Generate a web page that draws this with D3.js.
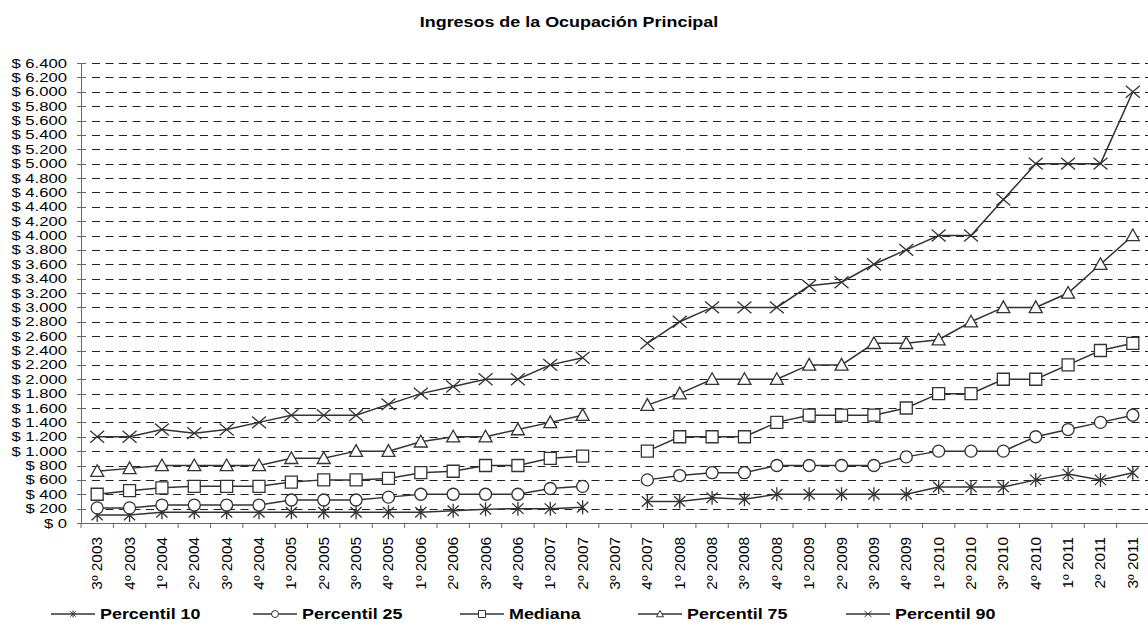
<!DOCTYPE html>
<html>
<head>
<meta charset="utf-8">
<style>
  body { margin: 0; background: #fff; }
  svg text { font-family: "Liberation Sans", Arial, sans-serif; fill: #000; }
</style>
</head>
<body>
<svg width="1148" height="627"></svg>
<script src="https://d3js.org/d3.v7.min.js"></script>
<script>
const categories = ["3º 2003","4º 2003","1º 2004","2º 2004","3º 2004","4º 2004","1º 2005","2º 2005",
  "3º 2005","4º 2005","1º 2006","2º 2006","3º 2006","4º 2006","1º 2007","2º 2007","3º 2007","4º 2007",
  "1º 2008","2º 2008","3º 2008","4º 2008","1º 2009","2º 2009","3º 2009","4º 2009","1º 2010","2º 2010",
  "3º 2010","4º 2010","1º 2011","2º 2011","3º 2011"];

// 3º 2007 has no data (gap in every line)
const percentil10 = [110,110,150,150,150,150,150,150,150,150,150,170,190,200,200,220,null,
  300,300,350,330,400,400,400,400,400,500,500,500,600,680,600,700];
const percentil25 = [210,210,250,250,250,250,320,320,320,360,400,400,400,400,480,510,null,
  600,660,700,700,800,800,800,800,920,1000,1000,1000,1200,1300,1400,1500];
const mediana = [400,450,490,510,510,510,570,600,600,620,700,720,800,800,900,930,null,
  1000,1200,1200,1200,1400,1500,1500,1500,1600,1800,1800,2000,2000,2200,2400,2500];
const percentil75 = [720,760,800,800,800,800,900,900,1000,1000,1130,1200,1200,1300,1400,1500,null,
  1640,1800,2000,2000,2000,2200,2200,2500,2500,2550,2800,3000,3000,3200,3600,4000];
const percentil90 = [1200,1200,1300,1250,1300,1400,1500,1500,1500,1650,1800,1900,2000,2000,2200,2300,null,
  2500,2800,3000,3000,3000,3300,3350,3600,3800,4000,4000,4500,5000,5000,5000,6000];

const seriesNames = ["Percentil 10", "Percentil 25", "Mediana", "Percentil 75", "Percentil 90"];
const yTicks = d3.range(0, 6401, 200);

const series = [
  {name: seriesNames[0], values: percentil10, marker: "star"},
  {name: seriesNames[1], values: percentil25, marker: "circle"},
  {name: seriesNames[2], values: mediana, marker: "square"},
  {name: seriesNames[3], values: percentil75, marker: "triangle"},
  {name: seriesNames[4], values: percentil90, marker: "x"}
];

const svg = d3.select("svg");
const stretch = 1.28;   // text in the original is widened horizontally
const ink = "#333";

const x = d3.scaleBand().domain(categories).range([81, 1149]);
const y = d3.scaleLinear().domain([0, 6400]).range([523, 63]);

const locale = d3.formatLocale({decimal: ",", thousands: ".", grouping: [3], currency: ["$ ", ""]});
const fmt = locale.format("$,d");

const markerSize = {x: 7, star: 7, square: 6, triangle: 6.5, circle: 6};

function markerPath(type, s) {
  // s = half size
  if (type === "x") return `M${-s},${-s * 0.85}L${s},${s * 0.85}M${-s},${s * 0.85}L${s},${-s * 0.85}`;
  if (type === "star") return `M${-s * 0.8},${-s * 0.75}L${s * 0.8},${s * 0.75}M${-s * 0.8},${s * 0.75}L${s * 0.8},${-s * 0.75}M0,${-s}L0,${s}`;
  if (type === "square") return `M${-s},${-s}H${s}V${s}H${-s}Z`;
  if (type === "triangle") return `M0,${-s}L${s},${s * 0.8}L${-s},${s * 0.8}Z`;
  return d3.arc()({innerRadius: 0, outerRadius: s, startAngle: 0, endAngle: 2 * Math.PI});
}

// title
svg.append("text")
  .attr("transform", `translate(569,27) scale(${stretch},1)`)
  .attr("text-anchor", "middle")
  .style("font-size", "14px")
  .style("font-weight", "bold")
  .text("Ingresos de la Ocupación Principal");

// dashed gridlines
svg.append("g")
  .selectAll("line")
  .data(yTicks.filter(d => d > 0))
  .join("line")
  .attr("x1", 92).attr("x2", 1148)
  .attr("y1", d => Math.round(y(d)) + 0.5).attr("y2", d => Math.round(y(d)) + 0.5)
  .attr("stroke", "#222")
  .attr("stroke-dasharray", "8,5.5");

// y axis
const yAxis = svg.append("g");
yAxis.append("line")
  .attr("x1", 81.5).attr("x2", 81.5).attr("y1", y(6400)).attr("y2", y(0))
  .attr("stroke", "#666");
yAxis.selectAll("line.tick")
  .data(yTicks)
  .join("line")
  .attr("class", "tick")
  .attr("x1", 77).attr("x2", 86)
  .attr("y1", d => Math.round(y(d)) + 0.5).attr("y2", d => Math.round(y(d)) + 0.5)
  .attr("stroke", "#666");
yAxis.selectAll("text")
  .data(yTicks)
  .join("text")
  .attr("transform", d => `translate(67,${y(d) + 4.5}) scale(${stretch},1)`)
  .attr("text-anchor", "end")
  .style("font-size", "13px")
  .text(d => fmt(d));

// x axis
const xAxis = svg.append("g");
xAxis.append("line")
  .attr("x1", 81).attr("x2", 1148).attr("y1", 523.5).attr("y2", 523.5)
  .attr("stroke", "#666");
xAxis.selectAll("line.tick")
  .data(categories)
  .join("line")
  .attr("class", "tick")
  .attr("x1", d => x(d)).attr("x2", d => x(d))
  .attr("y1", 523).attr("y2", 528)
  .attr("stroke", "#666");
xAxis.selectAll("text")
  .data(categories)
  .join("text")
  .attr("transform", d => `translate(${x(d) + x.bandwidth() / 2 + 5},537) rotate(-90) scale(1.1,1)`)
  .attr("text-anchor", "end")
  .style("font-size", "14px")
  .text(d => d);

// lines and markers
const line = d3.line()
  .defined(d => d != null)
  .x((d, i) => x(categories[i]) + x.bandwidth() / 2)
  .y(d => y(d));

const g = svg.append("g");
series.forEach(s => {
  g.append("path")
    .attr("d", line(s.values))
    .attr("fill", "none")
    .attr("stroke", ink)
    .attr("stroke-width", 1.5);
});
series.forEach(s => {
  g.append("g")
    .selectAll("path")
    .data(s.values.map((v, i) => ({v, c: categories[i]})).filter(d => d.v != null))
    .join("path")
    .attr("transform", d => `translate(${x(d.c) + x.bandwidth() / 2},${y(d.v)})`)
    .attr("d", markerPath(s.marker, markerSize[s.marker]))
    .attr("fill", s.marker === "x" || s.marker === "star" ? "none" : "#fff")
    .attr("stroke", ink)
    .attr("stroke-width", 1.3);
});

// legend
const legendX = [73, 275, 482, 660, 868];
const legend = svg.append("g")
  .selectAll("g")
  .data(series)
  .join("g")
  .attr("transform", (d, i) => `translate(${legendX[i]},614)`);
legend.append("line")
  .attr("x1", -22).attr("x2", 22)
  .attr("stroke", ink).attr("stroke-width", 1.3);
legend.append("path")
  .attr("d", d => markerPath(d.marker, 3.5))
  .attr("fill", d => d.marker === "x" || d.marker === "star" ? "none" : "#fff")
  .attr("stroke", ink).attr("stroke-width", 1);
legend.append("text")
  .attr("transform", `translate(27,5) scale(${stretch},1)`)
  .style("font-size", "14px")
  .style("font-weight", "bold")
  .text(d => d.name);
</script>
</body>
</html>
